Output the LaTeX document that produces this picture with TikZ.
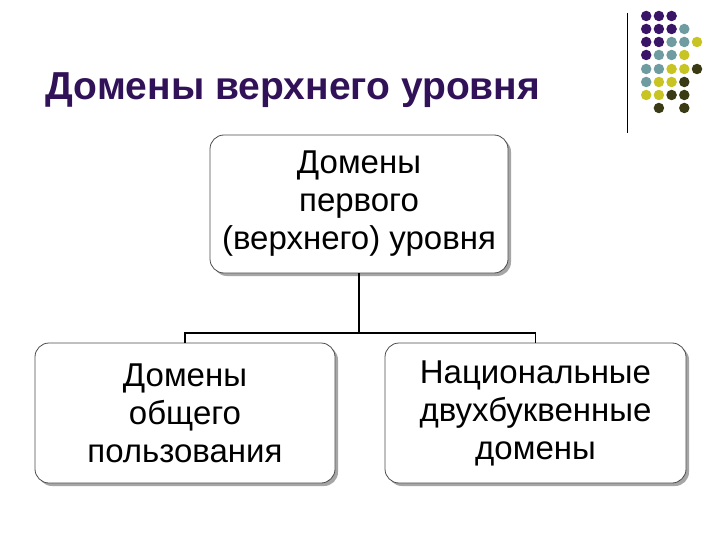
\documentclass[tikz,border=0pt]{standalone}
\usepackage{fontspec}
\setmainfont{Liberation Sans}
\definecolor{pp}{HTML}{3A1466}
\definecolor{tt}{HTML}{6F9CA0}
\definecolor{yy}{HTML}{C8C424}
\definecolor{dd}{HTML}{3A3A14}
\begin{document}
\begin{tikzpicture}[x=1pt,y=-1pt,
 box/.style={draw=black!70,line width=0.8pt,rounded corners=14pt,fill=white,align=center,font=\fontsize{33}{38}\selectfont,inner sep=0pt},
 shadow/.style={fill=black!35,rounded corners=14pt},
 dot/.style={circle,inner sep=0pt,minimum size=10.5pt}]
\useasboundingbox (0,0) rectangle (720,540);
\draw[line width=0.8pt] (627,13) -- (627,133);
\foreach \r/\lst in {16/{1/pp,2/pp,3/pp},29/{1/pp,2/pp,3/pp,4/tt},42/{1/pp,2/pp,3/tt,4/tt,5/yy},55/{1/pp,2/tt,3/tt,4/yy},69/{1/tt,2/tt,3/yy,4/yy,5/dd},82/{1/tt,2/yy,3/yy,4/dd},95/{1/yy,2/yy,3/dd,4/dd},108/{2/dd,4/dd}}{
 \foreach \c/\col in \lst { \node[dot,fill=\col] at ({633.5+12.7*\c},\r) {}; }}
\node[anchor=base west,font=\fontsize{39}{46}\bfseries\selectfont,text=pp!85!black] (title) at (42,100) {Домены верхнего уровня};
\fill[shadow] (213,138) rectangle (511,276);
\fill[shadow] (38,346) rectangle (338,486);
\fill[shadow] (388,346) rectangle (689,486);
\node[box,minimum width=298pt,minimum height=138pt] (top) at (359,204) {Домены\\первого\\(верхнего) уровня};
\node[box,minimum width=300pt,minimum height=140pt] (l) at (185,413) {Домены\\общего\\пользования};
\node[box,minimum width=301pt,minimum height=140pt] (r) at (535.5,413) {Национальные\\двухбуквенные\\домены};
\coordinate (j) at (359,333);
\draw[line width=1.2pt] (top.south) -- (j);
\draw[line width=1.2pt] (l.north) -- (l.north |- j) -- (r.north |- j) -- (r.north);
\end{tikzpicture}
\end{document}
